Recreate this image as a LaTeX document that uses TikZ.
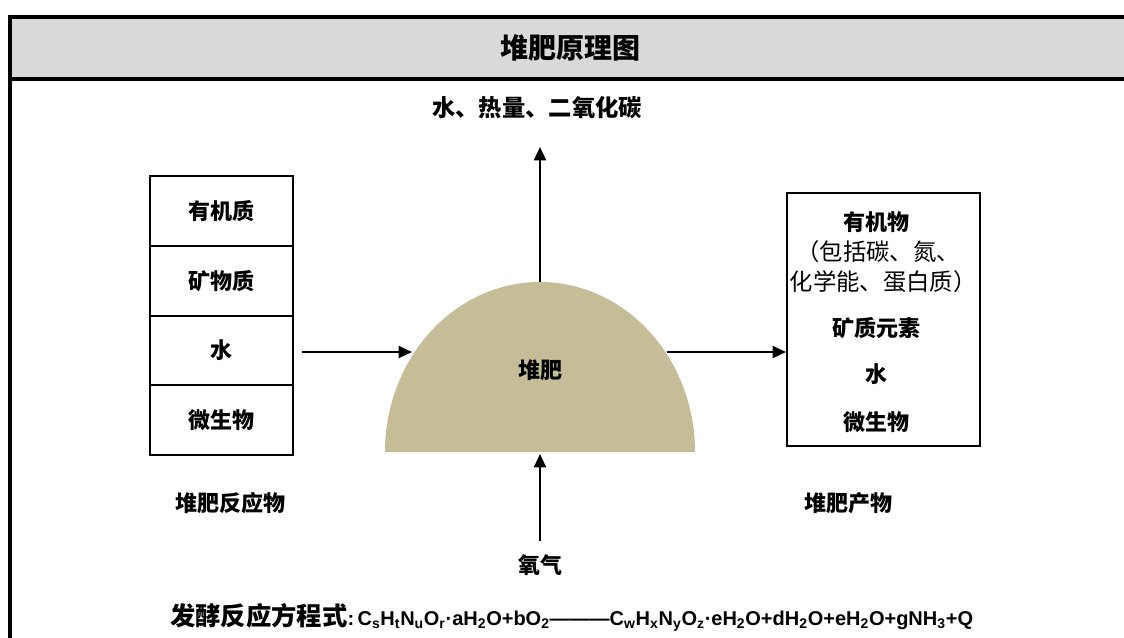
\documentclass[tikz,border=0pt]{standalone}
\usepackage{fontspec}
\setmainfont{Liberation Sans}
\newfontfamily\cjk{Noto Sans CJK SC}
\usetikzlibrary{arrows.meta}
\definecolor{pilecol}{HTML}{C4BD97}
\definecolor{hdrcol}{HTML}{D9D9D9}
\begin{document}
\begin{tikzpicture}[x=0.75pt,y=-0.75pt,
  lbl/.style={font=\cjk\bfseries\fontsize{16.5}{19}\selectfont, inner sep=0pt},
  arr/.style={line width=1.5pt, -{Triangle[length=10pt,width=9pt]}},
  cell/.style={draw, line width=1.5pt, minimum width=107.25pt, minimum height=52.3pt, inner sep=0pt, lbl}]
\useasboundingbox (0,0) rectangle (1124,637);
\clip (0,0) rectangle (1124,637);
% frame and header
\fill[hdrcol] (10,16.5) rectangle (1140,79);
\draw[line width=3pt] (1140,16.5) -- (10,16.5) -- (10,660);
\draw[line width=2.5pt] (10,79) -- (1140,79);
\node[font=\cjk\bfseries\fontsize{21}{24}\selectfont, inner sep=0pt] (title) at (570,48) {堆肥原理图};
% left box
\node[cell] (c1) at (221.5,211) {有机质};
\node[cell] (c2) at (221.5,281) {矿物质};
\node[cell] (c3) at (221.5,350.5) {水};
\node[cell] (c4) at (221.5,420) {微生物};
\node[lbl] (react) at (230,503) {堆肥反应物};
% compost pile
\fill[pilecol] (385,452) arc[start angle=180, end angle=0, x radius=116.25pt, y radius=127.5pt] -- cycle;
\coordinate (ptop) at (540,282);
\coordinate (pleft) at (412,352);
\coordinate (pright) at (667,352);
\coordinate (pbase) at (540,454);
\node[lbl] (pile) at (540,370) {堆肥};
% outputs on top
\node[lbl, font=\cjk\bfseries\fontsize{17.5}{20}\selectfont] (gas) at (537,108) {水、热量、二氧化碳};
\coordinate (gastip) at (540,147);
\draw[arr] (ptop) -- (gastip);
% oxygen
\node[lbl] (oxy) at (540,565) {氧气};
\coordinate (oxytail) at (540,541);
\draw[arr] (oxytail) -- (pbase);
% left arrow
\coordinate (ltail) at (302,352);
\draw[arr] (ltail) -- (pleft);
% right box
\node[draw, line width=1.5pt, minimum width=144.75pt, minimum height=189.75pt, inner sep=0pt] (prod) at (883.5,319.5) {};
\node[lbl] (p1) at (876,222) {有机物};
\node[lbl, font=\cjk\fontsize{17.5}{20}\selectfont] (p2) at (878,252) {（包括碳、氮、};
\node[lbl, font=\cjk\fontsize{17.5}{20}\selectfont] (p3) at (883,282) {化学能、蛋白质）};
\node[lbl] (p4) at (876,328) {矿质元素};
\node[lbl] (p5) at (876,374) {水};
\node[lbl] (p6) at (876,422) {微生物};
\draw[arr] (pright) -- (pright -| prod.west);
\node[lbl] (prodlbl) at (848,503) {堆肥产物};
% equation
\node[anchor=west, inner sep=0pt, font=\bfseries\fontsize{15}{18}\selectfont] (eq) at (170,617)
 {{\cjk\fontsize{19}{21}\selectfont 发酵反应方程式}:\,C\textsubscript{s}H\textsubscript{t}N\textsubscript{u}O\textsubscript{r}·aH\textsubscript{2}O+bO\textsubscript{2}———C\textsubscript{w}H\textsubscript{x}N\textsubscript{y}O\textsubscript{z}·eH\textsubscript{2}O+dH\textsubscript{2}O+eH\textsubscript{2}O+gNH\textsubscript{3}+Q};
\end{tikzpicture}
\end{document}
